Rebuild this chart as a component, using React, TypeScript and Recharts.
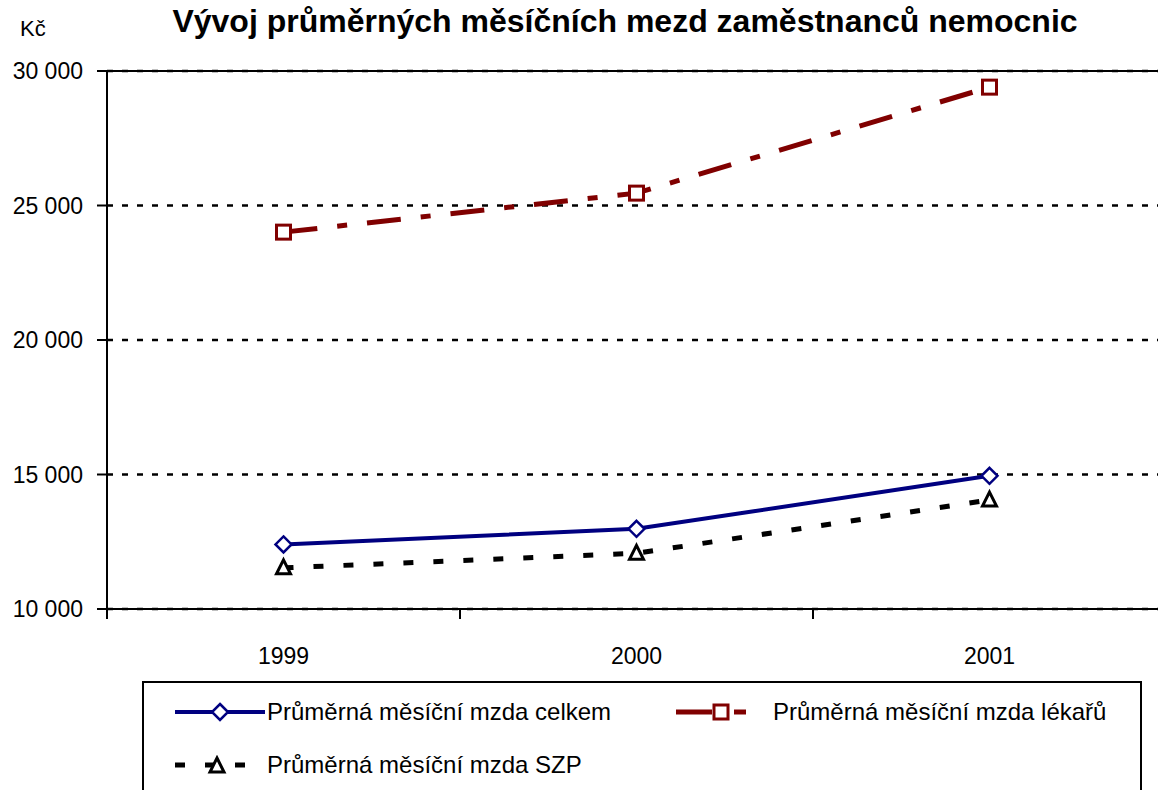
import { LineChart, Line, XAxis, YAxis, CartesianGrid, ReferenceLine } from 'recharts';

const categories = ['1999', '2000', '2001'];
const celkem = [12400, 12980, 14950];
const lekaru = [24010, 25460, 29400];
const szp = [11530, 12070, 14050];

const yTicks = [10000, 15000, 20000, 25000, 30000];
const xTicks = [0, 0.5, 1, 1.5, 2, 2.5, 3];

const FONT = 'Arial, "Liberation Sans", sans-serif';

const data = categories.map((year, i) => ({
  x: i + 0.5,
  year,
  celkem: celkem[i],
  lekaru: lekaru[i],
  szp: szp[i],
}));

const fmt = (v: number) => String(v).replace(/\B(?=(\d{3})+(?!\d))/g, ' ');

function XTick({ x, y, payload }: any) {
  const v = payload.value as number;
  if (Number.isInteger(v)) {
    return <line x1={x} x2={x} y1={y} y2={y + 10} stroke="#000" strokeWidth={2} />;
  }
  const label = categories[Math.floor(v)];
  return (
    <text x={x} y={y + 55} textAnchor="middle" fontSize={23} fontFamily={FONT} fill="#000">
      {label}
    </text>
  );
}

function Diamond({ cx, cy }: any) {
  if (cx == null) return null;
  const r = 8;
  return (
    <path
      d={`M${cx},${cy - r}L${cx + r},${cy}L${cx},${cy + r}L${cx - r},${cy}Z`}
      fill="#fff"
      stroke="#000080"
      strokeWidth={2.5}
    />
  );
}

function Square({ cx, cy }: any) {
  if (cx == null) return null;
  return <rect x={cx - 7} y={cy - 7} width={14} height={14} fill="#fff" stroke="#800000" strokeWidth={3} />;
}

function Triangle({ cx, cy }: any) {
  if (cx == null) return null;
  return (
    <path
      d={`M${cx},${cy - 8}L${cx + 7},${cy + 6}L${cx - 7},${cy + 6}Z`}
      fill="#fff"
      stroke="#000"
      strokeWidth={3}
    />
  );
}

function LegendRow({ kind, label }: { kind: string; label: string }) {
  let sample;
  if (kind === 'celkem') {
    sample = (
      <svg width={90} height={20}>
        <line x1={0} x2={90} y1={10} y2={10} stroke="#000080" strokeWidth={4} />
        <Diamond cx={45} cy={10} />
      </svg>
    );
  } else if (kind === 'lekaru') {
    sample = (
      <svg width={72} height={20}>
        <line x1={0} x2={36} y1={10} y2={10} stroke="#800000" strokeWidth={5} />
        <line x1={58} x2={70} y1={10} y2={10} stroke="#800000" strokeWidth={5} />
        <Square cx={45} cy={10} />
      </svg>
    );
  } else {
    sample = (
      <svg width={90} height={20}>
        <line x1={0} x2={10} y1={10} y2={10} stroke="#000" strokeWidth={5} />
        <line x1={30} x2={40} y1={10} y2={10} stroke="#000" strokeWidth={5} />
        <line x1={60} x2={70} y1={10} y2={10} stroke="#000" strokeWidth={5} />
        <Triangle cx={42} cy={11} />
      </svg>
    );
  }
  return (
    <div style={{ display: 'flex', alignItems: 'center' }}>
      {sample}
      <span style={{ marginLeft: kind === 'lekaru' ? 25 : 2 }}>{label}</span>
    </div>
  );
}

export default function App() {
  return (
    <div
      style={{
        position: 'absolute',
        left: 0,
        top: 0,
        width: 1158,
        height: 790,
        overflow: 'hidden',
        background: '#fff',
        fontFamily: FONT,
      }}
    >
      <div style={{ position: 'absolute', left: 0, right: 0, top: 3, textAlign: 'center', fontSize: 32, fontWeight: 'bold', paddingLeft: 92 }}>
        Vývoj průměrných měsíčních mezd zaměstnanců nemocnic
      </div>
      <div style={{ position: 'absolute', left: 20, top: 16, fontSize: 22 }}>Kč</div>

      <LineChart width={1180} height={790} data={data} margin={{ top: 71, right: 14, left: 0, bottom: 121 }}>
        <CartesianGrid vertical={false} stroke="#000" strokeWidth={2.5} strokeDasharray="6 9" />
        <XAxis
          dataKey="x"
          type="number"
          domain={[0, 3]}
          ticks={xTicks}
          interval={0}
          tickLine={false}
          tickSize={0}
          tickMargin={0}
          axisLine={{ stroke: '#000', strokeWidth: 2 }}
          tick={<XTick />}
          height={60}
        />
        <YAxis
          domain={[10000, 30000]}
          ticks={yTicks}
          interval={0}
          width={107}
          tickFormatter={fmt}
          tickSize={10}
          tickMargin={14}
          axisLine={{ stroke: '#000', strokeWidth: 2 }}
          tickLine={{ stroke: '#000', strokeWidth: 2 }}
          tick={{ fill: '#000', fontSize: 23, fontFamily: FONT }}
        />
        <ReferenceLine y={30000} stroke="#000" strokeWidth={2} />
        <Line
          dataKey="lekaru"
          stroke="#800000"
          strokeWidth={5}
          strokeDasharray="34 20 10 20"
          dot={<Square />}
          isAnimationActive={false}
        />
        <Line
          dataKey="szp"
          stroke="#000"
          strokeWidth={5}
          strokeDasharray="10 20"
          dot={<Triangle />}
          isAnimationActive={false}
        />
        <Line
          dataKey="celkem"
          stroke="#000080"
          strokeWidth={4}
          dot={<Diamond />}
          isAnimationActive={false}
        />
      </LineChart>

      <div
        style={{
          position: 'absolute',
          left: 142,
          top: 681,
          width: 1000,
          height: 140,
          border: '2px solid #000',
          boxSizing: 'border-box',
          fontSize: 24,
        }}
      >
        <div style={{ position: 'absolute', left: 31, top: 15 }}>
          <LegendRow kind="celkem" label="Průměrná měsíční mzda celkem" />
        </div>
        <div style={{ position: 'absolute', left: 532, top: 15 }}>
          <LegendRow kind="lekaru" label="Průměrná měsíční mzda lékařů" />
        </div>
        <div style={{ position: 'absolute', left: 31, top: 68 }}>
          <LegendRow kind="szp" label="Průměrná měsíční mzda SZP" />
        </div>
      </div>
    </div>
  );
}
